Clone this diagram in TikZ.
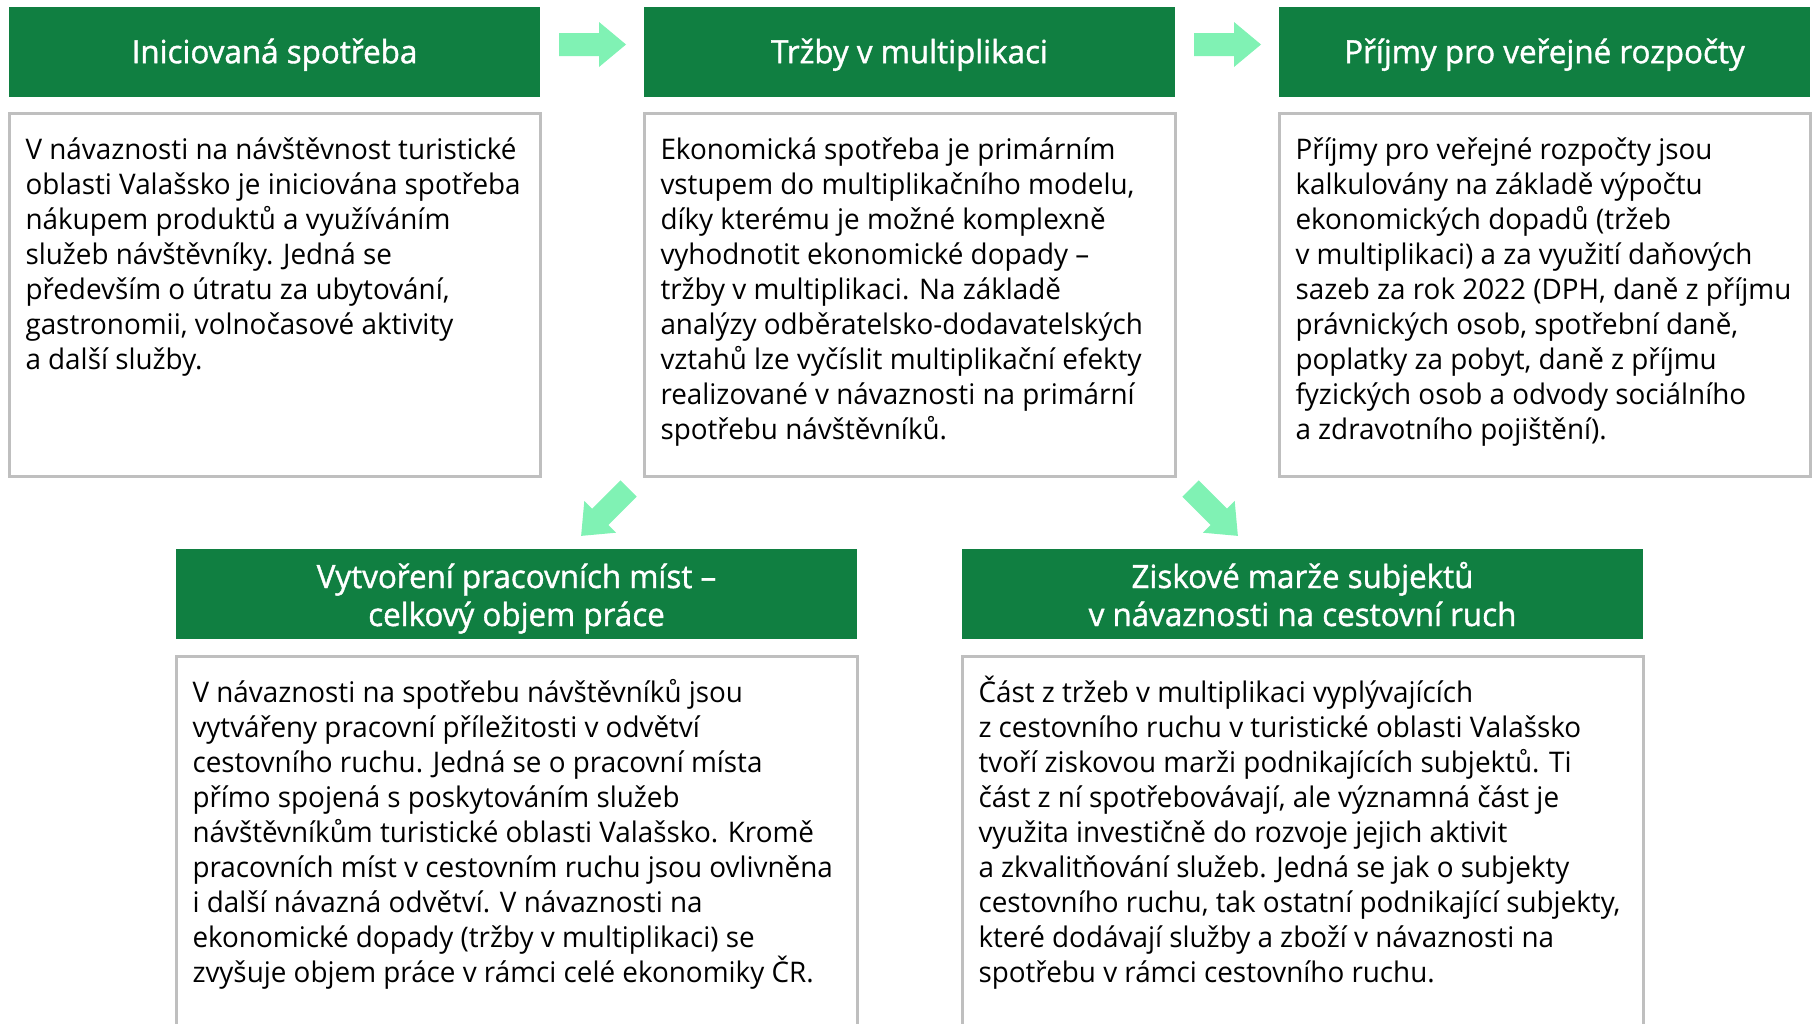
\documentclass[tikz,border=0pt]{standalone}
\usepackage{fontspec}
\setmainfont[FakeStretch=0.98]{Open Sans}
\newfontfamily\hdrfamily[FakeStretch=0.98, FakeBold=1.2]{Open Sans}
\usetikzlibrary{positioning}
\definecolor{hdrgreen}{RGB}{16,127,65}
\definecolor{arrowgreen}{RGB}{128,242,180}
\definecolor{boxgray}{RGB}{191,191,191}
\newcommand{\bodyfont}{\fontsize{14.2pt}{17.55pt}\selectfont}
\newcommand{\hdrfont}{\hdrfamily\fontsize{16pt}{19pt}\selectfont}
\newcommand{\topline}{\rule{0pt}{14pt}}

\begin{document}
\begin{tikzpicture}[
  x=0.5pt, y=-0.5pt,
  node distance=52pt,
  header/.style={fill=hdrgreen, text=white, inner sep=0pt, outer sep=0pt, align=center, minimum width=265.5pt, minimum height=45pt, text height=11.2pt, text depth=0pt, font=\hdrfont},
  wideheader/.style={header, minimum width=340.5pt, text height=32pt},
  panel/.style={draw=boxgray, line width=1.5pt, inner sep=0pt, minimum width=265.5pt, minimum height=181.5pt},
  widepanel/.style={panel, minimum width=340.5pt, minimum height=230pt},
  bodytext/.style={anchor=north west, inner sep=0pt, outer sep=0pt, align=left, font=\bodyfont},
  blockarrow/.pic={\fill[arrowgreen] (0,-11.5) -- (40,-11.5) -- (40,-22.5) -- (67,0) -- (40,22.5) -- (40,11.5) -- (0,11.5) -- cycle;}
]
\useasboundingbox (0,0) rectangle (1814,1023);
\clip (0,0) rectangle (1814,1023);

% top row
\node[header] (h1) at (274.5,52) {Iniciovaná spotřeba};
\node[header, right=of h1] (h2) {Tržby v multiplikaci};
\node[header, right=of h2] (h3) {Příjmy pro veřejné rozpočty};
\node[panel, below=7.5pt of h1] (b1) {};
\node[panel, below=7.5pt of h2] (b2) {};
\node[panel, below=7.5pt of h3] (b3) {};

% bottom row
\node[wideheader] (h4) at (516.5,594) {Vytvoření pracovních míst –\\celkový objem práce};
\node[wideheader, right=52.5pt of h4] (h5) {Ziskové marže subjektů\\v návaznosti na cestovní ruch};
\node[widepanel, below=8pt of h4] (b4) {};
\node[widepanel, below=8pt of h5] (b5) {};

\node[bodytext] (t1) at ([shift={(18,19)}]b1.north west) {\topline V návaznosti na návštěvnost turistické\\
oblasti Valašsko je iniciována spotřeba\\
nákupem produktů a využíváním\\
služeb návštěvníky. Jedná se\\
především o útratu za ubytování,\\
gastronomii, volnočasové aktivity\\
a další služby.};
\node[bodytext] (t2) at ([shift={(18,19)}]b2.north west) {\topline Ekonomická spotřeba je primárním\\
vstupem do multiplikačního modelu,\\
díky kterému je možné komplexně\\
vyhodnotit ekonomické dopady –\\
tržby v multiplikaci. Na základě\\
analýzy odběratelsko-dodavatelských\\
vztahů lze vyčíslit multiplikační efekty\\
realizované v návaznosti na primární\\
spotřebu návštěvníků.};
\node[bodytext] (t3) at ([shift={(18,19)}]b3.north west) {\topline Příjmy pro veřejné rozpočty jsou\\
kalkulovány na základě výpočtu\\
ekonomických dopadů (tržeb\\
v multiplikaci) a za využití daňových\\
sazeb za rok 2022 (DPH, daně z příjmu\\
právnických osob, spotřební daně,\\
poplatky za pobyt, daně z příjmu\\
fyzických osob a odvody sociálního\\
a zdravotního pojištění).};
\node[bodytext] (t4) at ([shift={(18,19)}]b4.north west) {\topline V návaznosti na spotřebu návštěvníků jsou\\
vytvářeny pracovní příležitosti v odvětví\\
cestovního ruchu. Jedná se o pracovní místa\\
přímo spojená s poskytováním služeb\\
návštěvníkům turistické oblasti Valašsko. Kromě\\
pracovních míst v cestovním ruchu jsou ovlivněna\\
i další návazná odvětví. V návaznosti na\\
ekonomické dopady (tržby v multiplikaci) se\\
zvyšuje objem práce v rámci celé ekonomiky ČR.};
\node[bodytext] (t5) at ([shift={(18,19)}]b5.north west) {\topline Část z tržeb v multiplikaci vyplývajících\\
z cestovního ruchu v turistické oblasti Valašsko\\
tvoří ziskovou marži podnikajících subjektů. Ti\\
část z ní spotřebovávají, ale významná část je\\
využita investičně do rozvoje jejich aktivit\\
a zkvalitňování služeb. Jedná se jak o subjekty\\
cestovního ruchu, tak ostatní podnikající subjekty,\\
které dodávají služby a zboží v návaznosti na\\
spotřebu v rámci cestovního ruchu.};

% block arrows
\coordinate (r1) at ([shift={(19,-7.5)}]h1.east);
\coordinate (r2) at ([shift={(19,-7.5)}]h2.east);
\coordinate (d1) at ([shift={(-14,10.5)}]b2.south west);
\coordinate (d2) at ([shift={(14,10.5)}]b2.south east);
\pic at (r1) {blockarrow};
\pic at (r2) {blockarrow};
\pic[rotate=-135] at (d1) {blockarrow};
\pic[rotate=-45] at (d2) {blockarrow};
\end{tikzpicture}
\end{document}
